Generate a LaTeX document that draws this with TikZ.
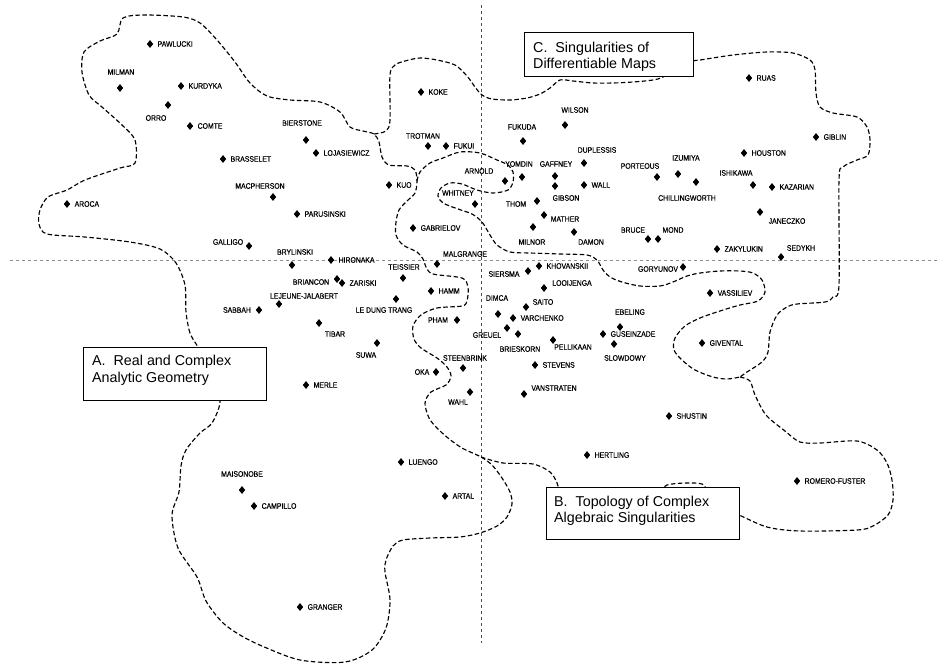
\documentclass[tikz,border=0pt]{standalone}
\usepackage{fontspec}
\setmainfont{Liberation Sans}
\newfontfamily\labfont[FakeStretch=0.87,FakeBold=0.6]{Liberation Sans}
\usetikzlibrary{shapes.geometric}
\begin{document}
\begin{tikzpicture}[x=1pt,y=-1pt,
  dia/.style={diamond, fill=black, inner sep=0pt, minimum width=6.5pt, minimum height=8pt},
  lab/.style={font=\labfont\fontsize{7.9}{8}\selectfont, inner sep=0pt},
  labr/.style={lab, anchor=west},
  bound/.style={draw=black, line width=1.15pt, dash pattern=on 4.5pt off 2.5pt},
  axisv/.style={draw=black!70, line width=0.9pt, dash pattern=on 3pt off 3pt},
  axish/.style={draw=black!45, line width=0.7pt, dash pattern=on 3pt off 3pt},
  tbox/.style={draw=black, line width=1.1pt, fill=white, inner sep=0pt, anchor=north west},
  ttext/.style={font=\fontsize{14.3}{16}\selectfont, inner sep=0pt, anchor=base west}]
\useasboundingbox (0,0) rectangle (940,665);

% axes
\coordinate (vt) at (481,5); \coordinate (vb) at (481,643);
\coordinate (hl) at (10,260); \coordinate (hr) at (940,260);
\draw[axisv] (vt) -- (vb);
\draw[axish] (hl) -- (hr);

% region A boundary
\draw[bound] plot[smooth cycle, tension=0.5] coordinates {
(198,347) (190,333) (186,312) (185,285) (176,263) (160,249) (130,242) (85,237) (47,234) (39,224) (40,210) (48,197) (67,190) (85,180) (120,168) (135,163) (135,140) (122,125) (102,107) (89,95) (82,72) (84,52) (100,41) (117,34) (123,18) (145,15) (183,17) (200,23) (217,40) (235,62) (250,83) (267,96) (290,100) (320,102) (340,112) (350,127) (363,131) (374,134) (379,142) (382,157) (389,165) (407,166) (415,170) (417,181) (415,193) (407,201) (399,210) (396,222) (396,235) (403,245) (417,252) (423,259) (426,267) (433,274) (462,278) (468,287) (467,301) (462,306) (437,308) (421,315) (413,326) (414,339) (421,348) (437,358) (447,367) (451,376) (446,385) (431,392) (425,403) (429,418) (437,428) (448,438) (462,448) (481,457) (492,465) (502,478) (510,492) (512,504) (507,517) (497,526) (480,533) (460,537) (430,538) (403,540) (393,546) (386,560) (385,572) (390,600) (386,628) (372,650) (345,662) (300,660) (262,646) (240,635) (222,622) (206,601) (197,577) (178,548) (172,515) (179,492) (181,466) (186,450) (200,433) (212,423) (220,402) (215,375)};

% junction to box B
\draw[bound] plot[smooth, tension=0.5] coordinates {(481,457) (503,463) (533,464) (550,472) (557,483) (560,495)};

% C boundary (upper)
\draw[bound] plot[smooth, tension=0.5] coordinates {
(374,134) (386,131) (390,120) (390,75) (395,65) (405,61) (420,58) (437,60) (455,65) (467,76) (475,87) (482,95) (492,99) (510,100) (527,98) (540,94) (550,88) (560,80) (573,81) (593,83) (613,83) (633,82) (653,80) (663,77) (680,68) (693,61) (700,60) (733,55) (767,52) (793,53) (810,60) (815,70) (816,93) (820,107) (833,113) (857,117) (867,127) (870,140) (868,155) (857,160) (843,167) (839,180) (839,285) (833,297) (825,302) (797,304) (787,307) (777,315) (770,332) (768,352) (762,362) (747,372) (740,377)};

% snaking C/B boundary
\draw[bound] plot[smooth, tension=0.5] coordinates {
(417,181) (420,172) (430,163) (443,158) (460,152) (480,153) (497,160) (508,165) (513,172) (513,182) (508,190) (493,193) (477,190) (462,184) (450,183) (441,188) (438,196) (443,203) (458,209) (472,214) (482,222) (490,235) (497,245) (510,252) (530,253) (560,254) (587,255) (597,260) (603,270) (610,277) (622,282) (640,286) (660,286) (673,282) (687,276) (700,273) (720,271) (740,271) (753,273) (762,280) (765,292) (758,301) (740,305) (720,311) (700,318) (685,326) (675,338) (674,350) (682,360) (695,370) (713,377) (727,379) (740,377)};

% lower right loop
\draw[bound] plot[smooth, tension=0.5] coordinates {
(740,377) (750,381) (755,395) (766,415) (785,431) (800,442) (820,443) (857,441) (877,450) (887,463) (892,480) (893,500) (888,515) (873,526) (857,530) (800,531) (767,527) (739,515) (725,510)};
\draw[bound] plot[smooth, tension=0.5] coordinates {(660,492) (667,485) (685,483) (702,484) (708,492)};

% boxes
\node[tbox, minimum width=183pt, minimum height=53pt] (boxA) at (83,347) {};
\node[tbox, minimum width=193pt, minimum height=52pt] (boxB) at (546,487) {};
\node[tbox, minimum width=169pt, minimum height=44pt] (boxC) at (524,32) {};
\node[ttext] (tA1) at (92,365) {A.\ \ Real and Complex};
\node[ttext] (tA2) at (92,382) {Analytic Geometry};
\node[ttext] (tB1) at (554,506) {B.\ \ Topology of Complex};
\node[ttext] (tB2) at (554,522) {Algebraic Singularities};
\node[ttext] (tC1) at (533,52) {C.\ \ Singularities of};
\node[ttext] (tC2) at (533,68) {Differentiable Maps};

% names with label to the right
\foreach \id/\x/\y/\t in {
pawlucki/150/44/PAWLUCKI, kurdyka/181/86/KURDYKA, comte/190/126/COMTE,
brasselet/223/159/BRASSELET, aroca/67/204/AROCA, lojasiewicz/316/153/LOJASIEWICZ,
parusinski/297/214/PARUSINSKI, koke/421/92/KOKE, fukui/446/146/FUKUI,
kuo/389/185/KUO, gabrielov/413/228/GABRIELOV, hironaka/331/260/HIRONAKA,
zariski/342/283/ZARISKI, hamm/431/291/HAMM, merle/306/385/MERLE,
campillo/254/506/CAMPILLO, luengo/401/462/LUENGO, artal/445/496/ARTAL,
granger/300/607/GRANGER, wall/584/185/WALL, kazarian/772/187/KAZARIAN,
houston/744/153/HOUSTON, giblin/816/137/GIBLIN, ruas/749/78/RUAS,
zakylukin/717/249/ZAKYLUKIN, khovanskii/539/266/KHOVANSKII, varchenko/513/318/VARCHENKO,
guseinzade/603/334/GUSEINZADE, stevens/535/365/STEVENS, shustin/669/416/SHUSTIN,
vassiliev/710/293/VASSILIEV, givental/702/343/GIVENTAL, hertling/587/455/HERTLING,
romero/797/481/ROMERO-FUSTER}{
  \node[dia] (d\id) at (\x,\y) {};
  \node[labr] (l\id) at ([xshift=4pt]d\id.east) {\t};
}

% names with label placed freely
\foreach \id/\x/\y/\lx/\ly/\t in {
milman/120/88/121/72/MILMAN, orro/168/105/156/118/ORRO,
bierstone/306/140/302/123/BIERSTONE, macpherson/273/197/260/186/MACPHERSON,
trotman/428/146/423/136/TROTMAN, whitney/475/204/458/193/WHITNEY,
arnold/505/181/479/171/ARNOLD, wilson/565/125/575/110/WILSON,
fukuda/523/141/522/127/FUKUDA, duplessis/584/163/597/150/DUPLESSIS,
yomdin/522/177/519/164/YOMDIN, gaffney/555/176/556/164/GAFFNEY,
gibson/555/186/566/198/GIBSON, thom/537/201/516/204/THOM,
mather/544/215/565/219/MATHER, porteous/657/177/640/166/PORTEOUS,
izumiya/678/174/686/158/IZUMIYA, chillingworth/696/182/687/198/CHILLINGWORTH,
ishikawa/753/185/736/173/ISHIKAWA, janeczko/760/212/787/221/JANECZKO,
milnor/533/227/532/242/MILNOR, damon/574/232/591/242/DAMON,
bruce/648/239/633/230/BRUCE, mond/658/239/673/230/MOND,
sedykh/781/257/801/248/SEDYKH, goryunov/683/267/658/269/GORYUNOV,
siersma/528/271/504/274/SIERSMA, looijenga/544/288/572/283/LOOIJENGA,
dimca/498/314/497/298/DIMCA, saito/526/307/543/302/SAITO,
greuel/507/328/487/335/GREUEL, brieskorn/518/334/520/349/BRIESKORN,
pellikaan/553/340/573/347/PELLIKAAN, ebeling/620/327/630/312/EBELING,
slowdowy/614/344/625/358/SLOWDOWY, vanstraten/524/394/554/388/VANSTRATEN,
galligo/249/246/228/242/GALLIGO, brylinski/292/265/295/252/BRYLINSKI,
teissier/403/278/404/267/TEISSIER, malgrange/437/264/465/254/MALGRANGE,
briancon/337/279/311/282/BRIANCON, lejeune/279/304/304/296/LEJEUNE-JALABERT,
sabbah/259/310/237/310/SABBAH, ledung/396/299/384/310/LE DUNG TRANG,
pham/457/320/438/320/PHAM, tibar/319/323/335/334/TIBAR,
suwa/377/343/366/355/SUWA, oka/436/372/422/372/OKA,
steenbrink/463/368/465/358/STEENBRINK, wahl/470/392/458/402/WAHL,
maisonobe/242/490/242/474/MAISONOBE}{
  \node[dia] (d\id) at (\x,\y) {};
  \node[lab] (l\id) at (\lx,\ly) {\t};
}
\end{tikzpicture}
\end{document}
